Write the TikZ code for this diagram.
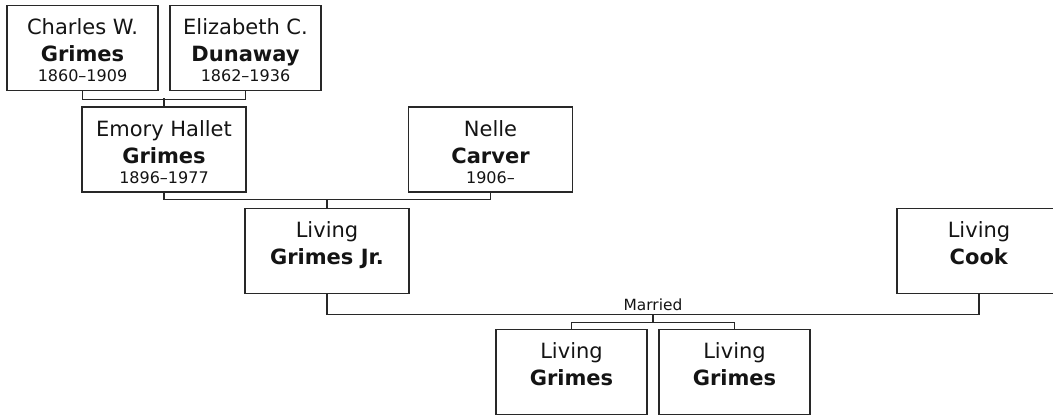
\documentclass[tikz,border=0pt]{standalone}
\usepackage{fontspec}
\setmainfont{DejaVu Sans}
\usetikzlibrary{calc}
\definecolor{lineclr}{RGB}{40,40,40}
\definecolor{txtclr}{RGB}{20,20,20}
\newcommand{\famcell}[2]{\parbox[c][85pt][t]{#1}{\centering\fontsize{21}{27}\selectfont\rule{0pt}{29pt}#2}}
\newcommand{\yrs}[1]{\\[-7pt]{\fontsize{16}{20}\selectfont #1}}
\tikzset{
  person/.style={draw=lineclr, line width=1.3pt, inner sep=0pt, text=txtclr},
  conn/.style={draw=lineclr, line width=1.3pt},
  marr/.style={font=\fontsize{15.4}{18}\selectfont, text=txtclr, inner sep=0pt}
}
\begin{document}
\begin{tikzpicture}[x=1pt,y=-1pt]
\useasboundingbox (0,0) rectangle (1053,416);
\clip (0,0) rectangle (1053,416);
\fill[white] (0,0) rectangle (1053,416);
% people
\node[person] (charles) at (82.5,48) {\famcell{151pt}{Charles W.\\ \textbf{Grimes}\yrs{1860–1909}}};
\node[person] (elizabeth) at (245.5,48) {\famcell{151pt}{Elizabeth C.\\ \textbf{Dunaway}\yrs{1862–1936}}};
\node[person] (emory) at (164,149.5) {\famcell{164pt}{Emory Hallet\\ \textbf{Grimes}\yrs{1896–1977}}};
\node[person] (nelle) at (490.5,149.5) {\famcell{164pt}{Nelle\\ \textbf{Carver}\yrs{1906–}}};
\node[person] (jr) at (327,251) {\famcell{164pt}{Living\\ \textbf{Grimes Jr.}}};
\node[person] (cook) at (979,251) {\famcell{164pt}{Living\\ \textbf{Cook}}};
\node[person] (child1) at (571.5,372) {\famcell{151pt}{Living\\ \textbf{Grimes}}};
\node[person] (child2) at (734.5,372) {\famcell{151pt}{Living\\ \textbf{Grimes}}};
% connectors
\draw[conn] (charles.south) -- ++(0,8) -| (elizabeth.south);
\draw[conn] (emory.north) -- ++(0,-8);
\draw[conn] (emory.south) -- ++(0,7) -| (nelle.south);
\draw[conn] (jr.north) -- ++(0,-9);
\draw[conn] (jr.south) -- ++(0,20.5) coordinate (ml) -| (cook.south);
\coordinate (mr) at (cook.south |- ml);
\coordinate (mm) at ($(ml)!0.5!(mr)$);
\node[marr, anchor=base] (married) at ($(mm)+(0,-4.5)$) {Married};
\draw[conn] (mm) -- ++(0,8) coordinate (cm) -| (child1.north);
\draw[conn] (cm) -| (child2.north);
\end{tikzpicture}
\end{document}
